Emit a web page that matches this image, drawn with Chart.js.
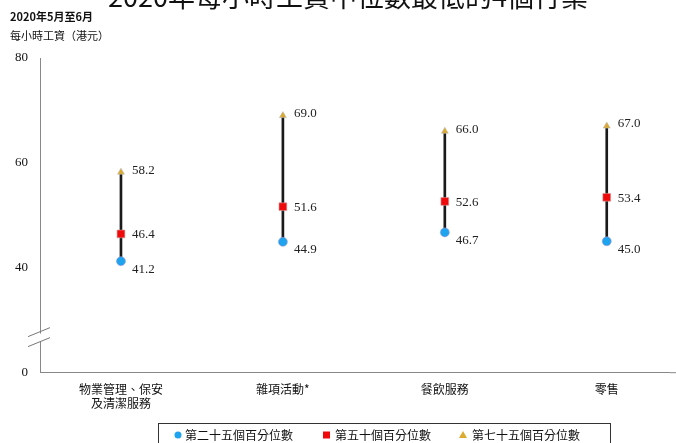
<!DOCTYPE html>
<html>
<head>
<meta charset="utf-8">
<script src="https://cdn.jsdelivr.net/npm/chart.js@4"></script>
<style>
  html, body { margin: 0; padding: 0; background: #fff; overflow: hidden; }
  #wrap { width: 676px; height: 443px; position: relative; }
</style>
</head>
<body>
<div id="wrap"><canvas id="wageChart" width="676" height="443"></canvas></div>
<script>
// Hourly wage percentiles, lowest four industries (May-June 2020)
const industries = [['物業管理、保安', '及清潔服務'], '雜項活動*', '餐飲服務', '零售'];
const p25 = [41.2, 44.9, 46.7, 45.0];
const p50 = [46.4, 51.6, 52.6, 53.4];
const p75 = [58.2, 69.0, 66.0, 67.0];
const seriesNames = ['第二十五個百分位數', '第五十個百分位數', '第七十五個百分位數'];
const yTicks = [20, 40, 60, 80];   // 20 stands for the broken "0"

const serif = '"Liberation Serif", "Times New Roman", serif';
const cjk = '"Noto Sans CJK TC", "Noto Sans CJK SC", sans-serif';

const colors = { p25: '#1ea3ef', p50: '#ee0a0a', p75: '#dcaa2c' };

function pts(arr) {
  return arr.map((v, i) => ({ x: i, y: v }));
}

// value labels next to each marker
const valueLabels = {
  id: 'valueLabels',
  afterDatasetsDraw(chart) {
    const ctx = chart.ctx;
    ctx.save();
    ctx.font = '13px ' + serif;
    ctx.fillStyle = '#222';
    ctx.textAlign = 'left';
    ctx.textBaseline = 'middle';
    const offs = { 1: 8, 2: 1, 3: -2 };
    [1, 2, 3].forEach(di => {
      const meta = chart.getDatasetMeta(di);
      meta.data.forEach((pt, i) => {
        const v = chart.data.datasets[di].data[i].y;
        ctx.fillText(v.toFixed(1), pt.x + 11, pt.y + offs[di]);
      });
    });
    ctx.restore();
  }
};

// title, axis caption, axis break and boxed legend
const decorations = {
  id: 'decorations',
  afterDraw(chart) {
    const ctx = chart.ctx;
    const y = chart.scales.y;
    const area = chart.chartArea;
    ctx.save();
    // title (cut off at the top in the original)
    ctx.fillStyle = '#111';
    ctx.font = '27px ' + cjk;
    ctx.textAlign = 'center';
    ctx.textBaseline = 'alphabetic';
    ctx.fillText('2020年每小時工資中位數最低的4個行業', 348, 7);
    ctx.textAlign = 'left';
    ctx.font = 'bold 11px ' + cjk;
    ctx.fillText('2020年5月至6月', 10, 21);
    ctx.font = '11px ' + cjk;
    ctx.fillText('每小時工資（港元）', 10, 40);

    // x axis runs on to the edge of the picture
    ctx.strokeStyle = '#888';
    ctx.lineWidth = 1;
    ctx.beginPath();
    ctx.moveTo(area.right, area.bottom + 0.5);
    ctx.lineTo(676, area.bottom + 0.5);
    ctx.stroke();

    // axis break
    const x0 = area.left;
    const yb = y.getPixelForValue(26.6);
    ctx.fillStyle = '#fff';
    ctx.fillRect(x0 - 2, yb - 4, 4, 8);
    ctx.strokeStyle = '#777';
    ctx.beginPath();
    ctx.moveTo(x0 - 12, yb - 1); ctx.lineTo(x0 + 10, yb - 10);
    ctx.moveTo(x0 - 12, yb + 9); ctx.lineTo(x0 + 10, yb);
    ctx.stroke();

    // legend
    const lx = 158, ly = 423, lw = 452, lh = 22;
    ctx.strokeStyle = '#333';
    ctx.strokeRect(lx + 0.5, ly + 0.5, lw, lh);
    ctx.font = '12px ' + cjk;
    ctx.fillStyle = '#111';
    ctx.textBaseline = 'middle';
    const cy = ly + 12;
    // circle
    ctx.fillStyle = colors.p25;
    ctx.beginPath(); ctx.arc(178, cy, 3.5, 0, Math.PI * 2); ctx.fill();
    ctx.fillStyle = '#111';
    ctx.fillText(seriesNames[0], 185, cy);
    // square
    ctx.fillStyle = colors.p50;
    ctx.fillRect(323, cy - 3.5, 7, 7);
    ctx.fillStyle = '#111';
    ctx.fillText(seriesNames[1], 335, cy);
    // triangle
    ctx.fillStyle = colors.p75;
    ctx.beginPath();
    ctx.moveTo(463, cy - 4); ctx.lineTo(467, cy + 3); ctx.lineTo(459, cy + 3);
    ctx.closePath(); ctx.fill();
    ctx.fillStyle = '#111';
    ctx.fillText(seriesNames[2], 472, cy);
    ctx.restore();
  }
};

new Chart(document.getElementById('wageChart'), {
  data: {
    datasets: [
      {
        type: 'bar',
        label: 'range',
        order: 10,
        data: p25.map((v, i) => ({ x: i, y: [v, p75[i]] })),
        backgroundColor: '#1a1a1a',
        barThickness: 2
      },
      {
        type: 'scatter',
        label: seriesNames[0],
        order: 1,
        data: pts(p25),
        pointStyle: 'circle',
        pointRadius: 4.5,
        backgroundColor: colors.p25,
        borderColor: '#a39ad8',
        borderWidth: 0.6
      },
      {
        type: 'scatter',
        label: seriesNames[1],
        order: 1,
        data: pts(p50),
        pointStyle: 'rect',
        pointRadius: 5.5,
        backgroundColor: colors.p50,
        borderColor: '#d99',
        borderWidth: 0.6
      },
      {
        type: 'scatter',
        label: seriesNames[2],
        order: 1,
        data: pts(p75),
        pointStyle: 'triangle',
        pointRadius: 4,
        backgroundColor: colors.p75,
        borderColor: '#bbb',
        borderWidth: 0.6
      }
    ]
  },
  options: {
    responsive: false,
    animation: false,
    layout: { padding: { top: 58, right: 0, bottom: 22, left: 0 } },
    plugins: {
      legend: { display: false },
      tooltip: { enabled: false }
    },
    scales: {
      x: {
        type: 'linear',
        min: -0.5,
        max: 3.39,
        offset: false,
        grid: { display: false, drawTicks: false },
        border: { color: '#888' },
        afterBuildTicks: axis => { axis.ticks = [0, 1, 2, 3].map(v => ({ value: v })); },
        ticks: {
          padding: 10,
          color: '#111',
          font: { family: cjk, size: 12 },
          callback: v => industries[v]
        }
      },
      y: {
        min: 20,
        max: 80,
        afterFit: s => { s.width = 40; },
        grid: { display: false, drawTicks: true, tickLength: 4, tickColor: '#888' },
        border: { color: '#888' },
        afterBuildTicks: axis => { axis.ticks = yTicks.map(v => ({ value: v })); },
        ticks: {
          padding: 8,
          color: '#111',
          font: { family: serif, size: 13 },
          callback: v => (v === 20 ? '0' : String(v))
        }
      }
    }
  },
  plugins: [valueLabels, decorations]
});
</script>
</body>
</html>
